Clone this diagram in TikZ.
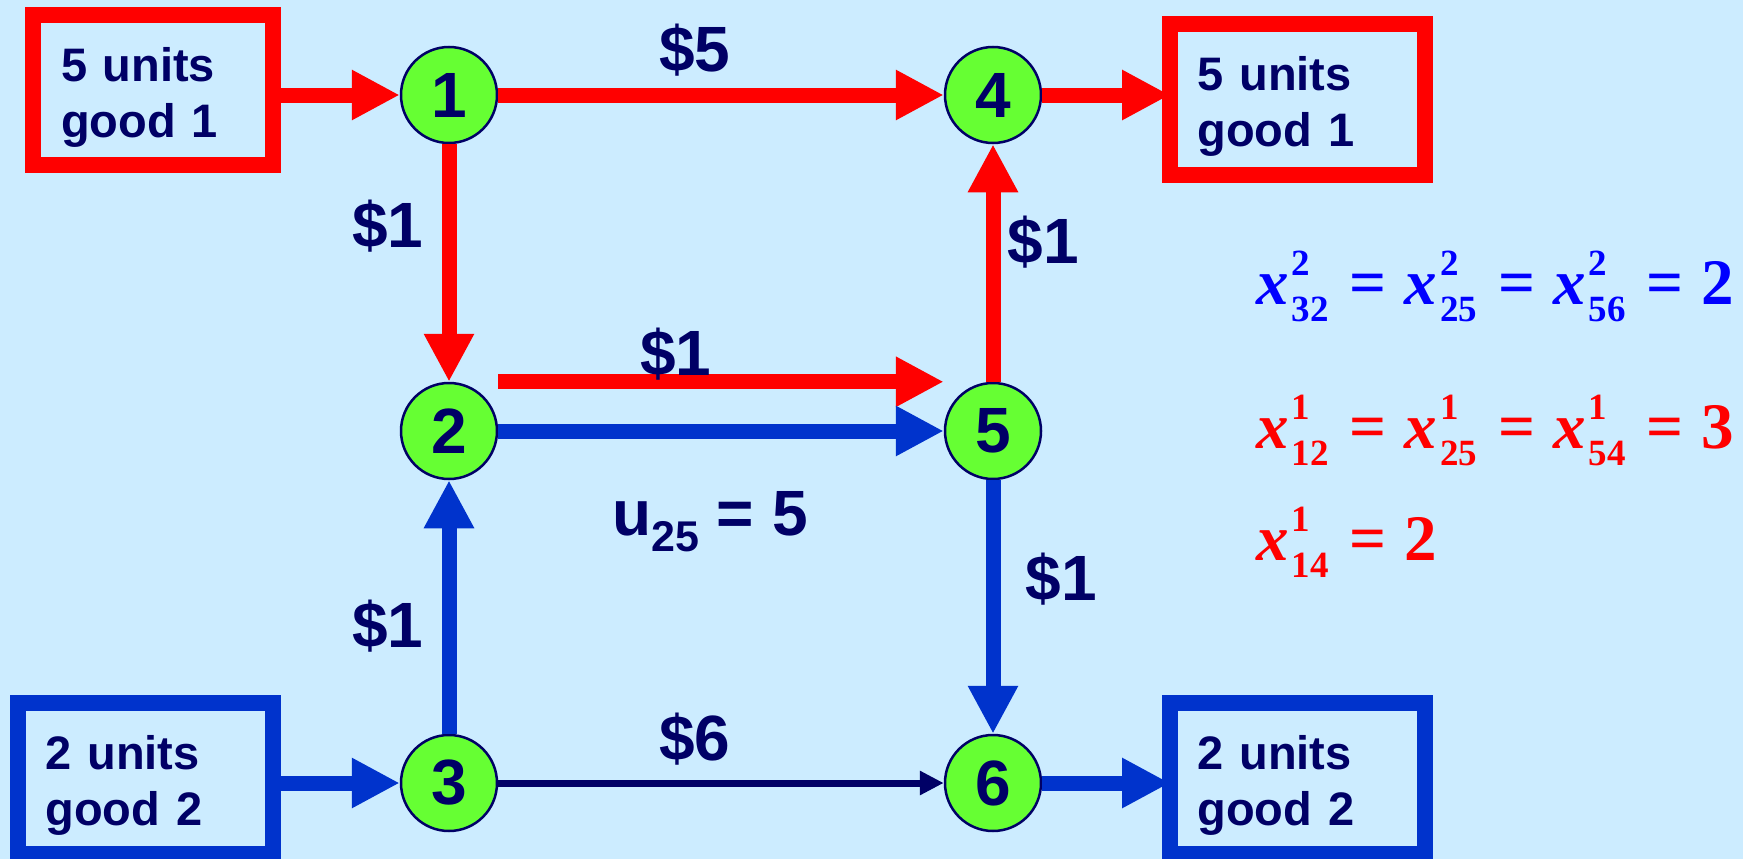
\documentclass[tikz,border=0pt]{standalone}
\usepackage{fontspec}
\setmainfont{Liberation Sans}
\newfontfamily\eqfont{Liberation Serif}
\usetikzlibrary{arrows.meta,positioning}
\definecolor{Sky}{HTML}{CCECFF}
\definecolor{Navy}{HTML}{000066}
\definecolor{Lime}{HTML}{66FF33}
\definecolor{FlowRed}{HTML}{FF0000}
\definecolor{FlowBlue}{HTML}{0033CC}
\definecolor{EqBlue}{HTML}{0000FF}

% flow variable x^k_{ij}
\newcommand{\xv}[2]{\textit{x}\kern3pt\makebox[0pt][l]{\raisebox{29pt}{\fontsize{37}{37}\selectfont #1}}\raisebox{-17pt}{\fontsize{37}{37}\selectfont #2}}
\newcommand{\eqs}{\kern21pt=\kern18pt}
\newcommand{\lift}{\rule{0pt}{48pt}}

\begin{document}
\begin{tikzpicture}[x=1pt,y=-1pt,
    town/.style={circle,draw=Navy,line width=2.5pt,fill=Lime,minimum size=96pt,
      inner sep=0pt,text=Navy,font=\fontsize{64}{64}\selectfont\bfseries},
    stock/.style={draw=#1,line width=16pt,minimum width=255pt,minimum height=151pt,
      text width=200pt,align=left,inner sep=0pt,text=Navy,
      font=\fontsize{47}{56}\selectfont\bfseries},
    flow/.style={draw=#1,line width=15pt,-{Triangle[length=48pt,width=47pt]}},
    cost/.style={anchor=base,inner sep=0pt,text=Navy,
      font=\fontsize{64}{64}\selectfont\bfseries},
    eqn/.style={anchor=base west,inner sep=0pt,text=#1,
      font=\eqfont\bfseries\fontsize{65}{65}\selectfont}]
    \fill[Sky] (0,0) rectangle (1743,859);
    \useasboundingbox (0,0) rectangle (1743,859);

    % supply and demand boxes
    \node[stock=FlowRed,minimum width=240pt,minimum height=150pt,text width=184pt]
      (s1) at (153,90) {\lift 5 units\\good 1};
    \node[stock=FlowRed] (d1) at (1297.5,99.5) {\lift 5 units\\good 1};
    \node[stock=FlowBlue] (s2) at (145.5,778.5) {\lift 2 units\\good 2};
    \node[stock=FlowBlue] (d2) at (1297.5,778.5) {\lift 2 units\\good 2};

    % nodes
    \node[town] (n1) at (449,95) {1};
    \node[town] (n4) at (993,95) {4};
    \node[town] (n2) at (449,431) {2};
    \node[town] (n5) at (993,431) {5};
    \node[town] (n3) at (449,783) {3};
    \node[town] (n6) at (993,783) {6};

    % good 1 (red)
    \draw[flow=FlowRed] (s1.east |- n1) -- (n1);
    \draw[flow=FlowRed] (n1) -- (n4);
    \draw[flow=FlowRed,shorten >=-8pt] (n4) -- (n4 -| d1.west);
    \draw[flow=FlowRed] (n1) -- (n2);
    \draw[flow=FlowRed] (n2.north -| n2.east) -- (n2.north -| n5.west);
    \draw[flow=FlowRed] (n5) -- (n4);

    % good 2 (blue)
    \draw[flow=FlowBlue] (s2.east |- n3) -- (n3);
    \draw[flow=FlowBlue] (n3) -- (n2);
    \draw[flow=FlowBlue] (n2) -- (n5);
    \draw[flow=FlowBlue] (n5) -- (n6);
    \draw[flow=FlowBlue,shorten >=-8pt] (n6) -- (n6 -| d2.west);
    \draw[Navy,line width=7pt,-{Triangle[length=24pt,width=23pt]}] (n3) -- (n6);

    % arc costs
    \node[cost] (c14) at (695,72) {\$5};
    \node[cost] (c12) at (388,247) {\$1};
    \node[cost] (c54) at (1043,263) {\$1};
    \node[cost] (c25) at (676,375) {\$1};
    \node[cost] (c32) at (388,647) {\$1};
    \node[cost] (c56) at (1061,600) {\$1};
    \node[cost] (c36) at (695,760) {\$6};
    \node[cost,anchor=base west] (u25) at (612,535)
      {u\raisebox{-16pt}{\fontsize{43}{43}\selectfont 25} = 5};

    % solution
    \node[eqn=EqBlue] (sol2) at (1256,304) {\xv{2}{32}\eqs\xv{2}{25}\eqs\xv{2}{56}\eqs 2};
    \node[eqn=FlowRed] (sol1) at (1256,448) {\xv{1}{12}\eqs\xv{1}{25}\eqs\xv{1}{54}\eqs 3};
    \node[eqn=FlowRed] (sol14) at (1256,560) {\xv{1}{14}\eqs 2};
\end{tikzpicture}
\end{document}
